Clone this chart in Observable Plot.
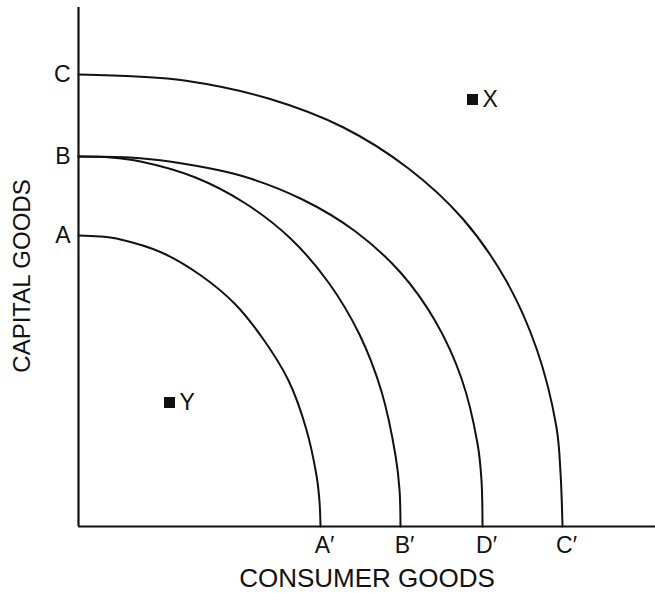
<!DOCTYPE html>
<html>
<head>
<meta charset="utf-8">
<script src="https://cdn.jsdelivr.net/npm/d3@7"></script>
<script src="https://cdn.jsdelivr.net/npm/@observablehq/plot@0.6"></script>
<style>
  html, body { margin: 0; padding: 0; background: #fff; }
  #chart svg { display: block; }
</style>
</head>
<body>
<div id="chart"></div>
<script>
// Production possibility frontiers
// (units: origin at the corner of the axes)
const curveA_x  = [0, 21, 42, 83, 121, 156, 185, 210, 227, 238, 241, 242];
const curveA_y  = [291, 290, 287, 274, 252, 223, 187, 146, 100, 51, 25, 0];

const curveBB_x = [0, 32, 62, 117, 167, 212, 250, 281, 303, 317, 321, 322];
const curveBB_y = [370, 369, 365, 349, 323, 288, 244, 192, 135, 71, 37, 0];

const curveBD_x = [0, 51, 91, 162, 224, 277, 322, 357, 383, 399, 403, 404];
const curveBD_y = [370, 369, 365, 351, 327, 295, 254, 205, 148, 83, 46, 0];

const curveC_x  = [0, 58, 106, 190, 265, 330, 384, 427, 458, 478, 482, 484];
const curveC_y  = [452, 450, 446, 428, 399, 358, 308, 247, 178, 99, 54, 0];

const pointNames = ["X", "Y"];
const pointX = [394, 91];
const pointY = [427, 124];

const xTickValues = [242, 322, 404, 484];
const xTickLabels = ["A\u2032", "B\u2032", "D\u2032", "C\u2032"];
const yTickValues = [291, 370, 452];
const yTickLabels = ["A", "B", "C"];

const xTitle = "CONSUMER GOODS";
const yTitle = "CAPITAL GOODS";

const build = (name, xs, ys) => xs.map((x, i) => ({curve: name, x, y: ys[i]}));
const curves = [
  ...build("A", curveA_x, curveA_y),
  ...build("BB", curveBB_x, curveBB_y),
  ...build("BD", curveBD_x, curveBD_y),
  ...build("C", curveC_x, curveC_y)
];
const points = pointNames.map((n, i) => ({name: n, x: pointX[i], y: pointY[i]}));

const ink = "#111";
const font = "'Liberation Sans', Arial, Helvetica, sans-serif";

const chart = Plot.plot({
  width: 655,
  height: 593,
  marginLeft: 78,
  marginRight: 0,
  marginTop: 7,
  marginBottom: 67,
  x: {domain: [0, 577]},
  y: {domain: [0, 519]},
  style: {fontFamily: font, fontSize: "23px", color: ink, background: "#fff", overflow: "visible"},
  marks: [
    Plot.line(curves, {x: "x", y: "y", z: "curve", curve: "catmull-rom", stroke: ink, strokeWidth: 2}),
    Plot.ruleX([0], {stroke: ink, strokeWidth: 2.2}),
    Plot.ruleY([0], {stroke: ink, strokeWidth: 2.2}),
    Plot.axisX(xTickValues, {
      tickSize: 0, tickPadding: 10, dx: 4,
      tickFormat: (d) => xTickLabels[xTickValues.indexOf(d)],
      label: null, fontSize: 23, fill: ink
    }),
    Plot.axisY(yTickValues, {
      tickSize: 0, tickPadding: 8,
      tickFormat: (d) => yTickLabels[yTickValues.indexOf(d)],
      label: null, fontSize: 23, fill: ink
    }),
    Plot.dot(points, {x: "x", y: "y", symbol: "square", r: 6.2, fill: ink, stroke: null}),
    Plot.text(points, {x: "x", y: "y", text: "name", textAnchor: "start", dx: 10, fontSize: 23, fill: ink}),
    Plot.text([xTitle], {frameAnchor: "bottom", textAnchor: "middle", dy: 52, fontSize: 26, fill: ink, lineAnchor: "middle"}),
    Plot.text([yTitle], {frameAnchor: "left", textAnchor: "middle", dx: -56, dy: 9, rotate: -90, fontSize: 24, fill: ink, lineAnchor: "middle"})
  ]
});
document.getElementById("chart").appendChild(chart);
</script>
</body>
</html>
